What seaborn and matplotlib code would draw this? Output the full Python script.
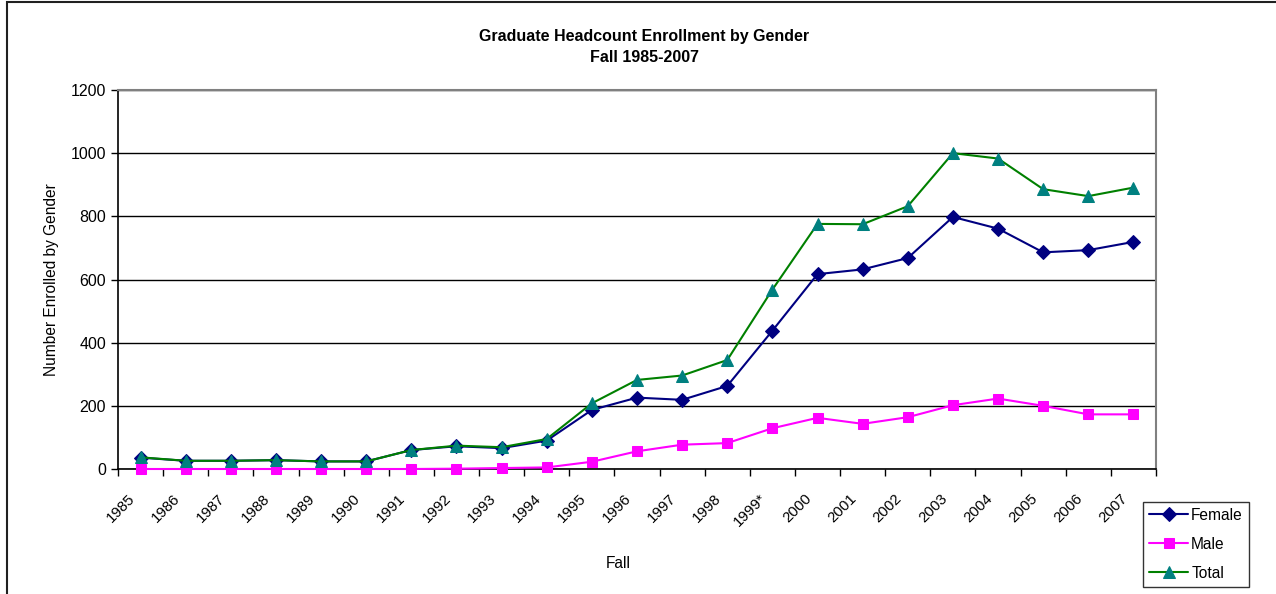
import pandas as pd
import matplotlib.pyplot as plt
import matplotlib.transforms as mtransforms
from matplotlib.patches import Rectangle
import seaborn as sns

# datos
years = ['1985', '1986', '1987', '1988', '1989', '1990', '1991', '1992', '1993', '1994',
         '1995', '1996', '1997', '1998', '1999*', '2000', '2001', '2002', '2003', '2004',
         '2005', '2006', '2007']
female = [36, 26, 26, 28, 24, 24, 60, 72, 66, 90,
          187, 226, 219, 263, 438, 617, 632, 668, 798, 761, 686, 693, 719]
male = [0, 0, 0, 0, 0, 0, 0, 1, 3, 5,
        23, 56, 77, 82, 129, 162, 143, 164, 202, 223, 200, 173, 173]
total = [37, 26, 26, 28, 24, 24, 60, 74, 69, 95,
         208, 282, 296, 345, 568, 776, 775, 832, 1000, 983, 886, 864, 891]

df = pd.DataFrame({'pos': range(len(years)), 'Female': female, 'Male': male, 'Total': total})

sns.set_theme(style="white")
plt.rcParams['font.family'] = ['Liberation Sans', 'DejaVu Sans']
plt.rcParams['text.color'] = 'black'
plt.rcParams['xtick.color'] = 'black'
plt.rcParams['ytick.color'] = 'black'

fig = plt.figure(figsize=(12.76, 5.94), dpi=100)
ax = fig.add_axes([118 / 1276, 1 - 469 / 594, (1156 - 118) / 1276, (469 - 90) / 594])

# Serie 1: Female
sns.lineplot(data=df, x='pos', y='Female', ax=ax, color='#000080', lw=1.5,
             marker='D', markersize=7.5, markerfacecolor='#000080', markeredgecolor='#000080',
             label='Female', zorder=3, clip_on=False)
# Serie 2: Male
sns.lineplot(data=df, x='pos', y='Male', ax=ax, color='#FF00FF', lw=1.5,
             marker='s', markersize=7.2, markerfacecolor='#FF00FF', markeredgecolor='#FF00FF',
             label='Male', zorder=3, clip_on=False)
# Serie 3: Total
sns.lineplot(data=df, x='pos', y='Total', ax=ax, color='#008000', lw=1.5,
             marker='^', markersize=8.5, markerfacecolor='#008080', markeredgecolor='#008080',
             label='Total', zorder=3, clip_on=False)

ax.set_xlim(-0.5, len(years) - 0.5)
ax.set_ylim(0, 1200)
ax.set_yticks(range(0, 1201, 200))
ax.yaxis.grid(True, color='black', lw=1)
ax.set_axisbelow(True)

ax.set_xticks(range(len(years)))
ax.set_xticklabels(years, rotation=45, ha='right', va='top', rotation_mode='anchor', fontsize=10.8)
ax.set_xticks([i - 0.5 for i in range(len(years) + 1)], minor=True)
ax.tick_params(axis='x', which='major', length=0, pad=16)
ax.tick_params(axis='x', which='minor', length=5, width=1, color='black', direction='out', bottom=True)
ax.tick_params(axis='y', length=5, width=1, color='black', direction='out', left=True, labelsize=11.5)
offset = mtransforms.ScaledTranslation(-13 / 100, 0, fig.dpi_scale_trans)
for lbl in ax.get_xticklabels():
    lbl.set_transform(lbl.get_transform() + offset)

ax.set_xlabel('')
ax.set_ylabel('')
for side in ['left', 'bottom']:
    ax.spines[side].set_color('black')
    ax.spines[side].set_linewidth(1.2)
for side in ['top', 'right']:
    ax.spines[side].set_color('#808080')
    ax.spines[side].set_linewidth(1.5)

fig.text(0.505, 1 - 37 / 594, 'Graduate Headcount Enrollment by Gender', ha='center', va='center',
         fontsize=11.5, fontweight='bold')
fig.text(0.505, 1 - 58 / 594, 'Fall 1985-2007', ha='center', va='center', fontsize=11.5, fontweight='bold')
fig.text(52 / 1276, 1 - 280 / 594, 'Number Enrolled by Gender', rotation=90, ha='center', va='center',
         fontsize=11.2)
fig.text(618 / 1276, 1 - 563 / 594, 'Fall', ha='center', va='center', fontsize=11.2)

leg = ax.legend(loc='lower left', bbox_to_anchor=(1143 / 1276, 7 / 594), bbox_transform=fig.transFigure,
                frameon=True, fancybox=False, fontsize=11.2, handlelength=2.5, borderpad=0.4,
                borderaxespad=0, labelspacing=0.9, handletextpad=0.2)
leg.get_frame().set_edgecolor('black')
leg.get_frame().set_linewidth(1)

# borde del grafico
fig.patches.append(Rectangle((7 / 1276, -0.1), 1.2, 1.1 - 1.5 / 594, transform=fig.transFigure,
                             fill=False, edgecolor='#202020', lw=1.5))

plt.savefig('out.png', dpi=100)
